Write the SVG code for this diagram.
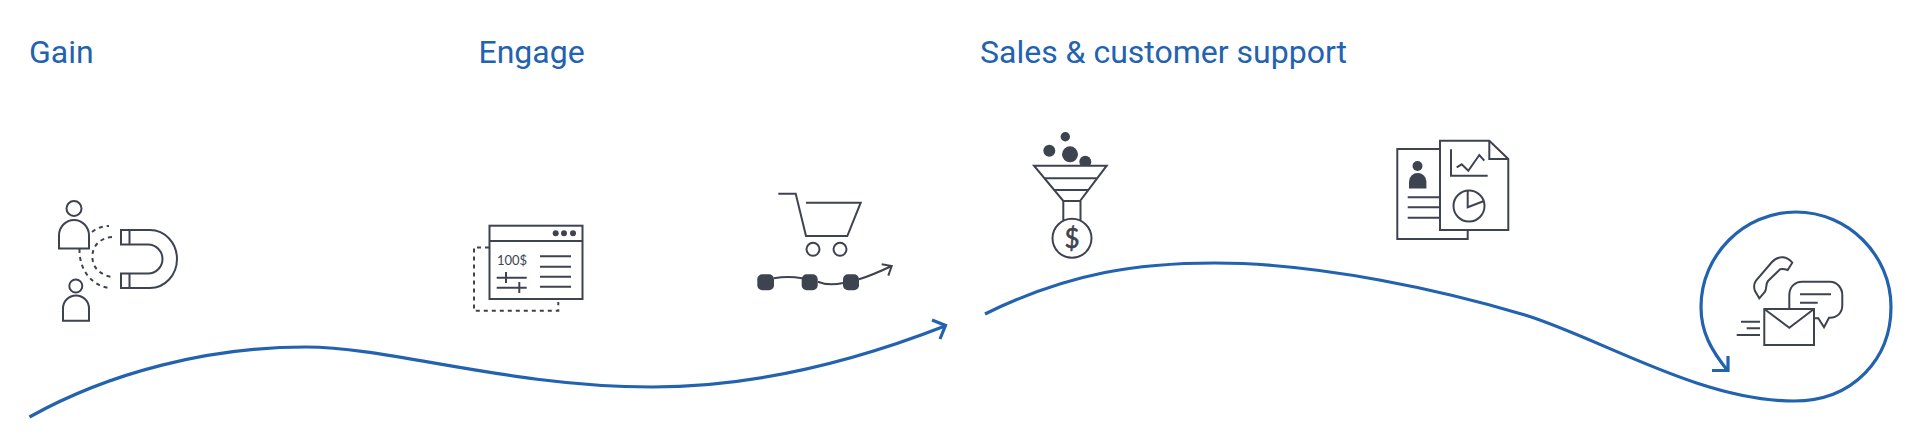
<svg xmlns="http://www.w3.org/2000/svg" width="1920" height="447" viewBox="0 0 1920 447">
<defs><style>
.t{font-family:Roboto,"Liberation Sans",sans-serif;font-size:32px;fill:#2262af}
.i{fill:none;stroke:#3e4350;stroke-width:2}
.w{fill:#fff;stroke:#3e4350;stroke-width:2}
.f{fill:#3e4350}
.d{fill:none;stroke:#3e4350;stroke-width:2;stroke-dasharray:4 4}
.c{fill:none;stroke:#2262af;stroke-width:3.2}
</style></defs>
<rect width="1920" height="447" fill="#fff"/>
<g id="labels">
<text class="t" x="29" y="63">Gain</text>
<text class="t" x="478.500" y="63">Engage</text>
<text class="t" x="980" y="63">Sales &amp; customer support</text>
</g>
<g id="connectors">
<path class="c" d="M29.500 417C110 372 210 347 306 347C390 347 510 387 652 387C745 387 840 367 945 326"/>
<path class="c" d="M932 320L945.500 325.500L940 339"/>
<path class="c" d="M985 314C1070 272 1140 263 1215 263C1320 263 1445 291 1525 315C1600 338 1700 401 1794 401C1854 401 1891 358 1891 307C1891 255 1848 212 1796 212C1744 212 1701 255 1701 307C1701 332 1711 350 1728 371"/>
<path class="c" d="M1728 356V370.500H1712"/>
</g>
<g id="node-gain">
<circle class="i" cx="74" cy="208.500" r="7.500"/>
<path class="i" d="M59 248.500V235.500a15 15.500 0 0 1 30 0V248.500Z"/>
<circle class="i" cx="75.800" cy="286" r="6.500"/>
<path class="i" d="M63 320.700V308.500a13 13 0 0 1 26 0V320.700Z"/>
<path class="i" d="M121 230H150A27 29 0 0 1 150 288H121V273.500H148A14.500 14.500 0 0 0 148 244.500H121Z"/>
<path class="i" d="M129.500 230V244.500M129.500 273.500V288"/>
<path class="d" d="M92 232C97 228 103 226 109 226"/>
<path class="d" d="M79.500 249C79 268 90 285 109 288"/>
<path class="d" d="M112 237C100 238 92 246 92.500 257C92 267 100 275 112 277"/>
</g>
<g id="node-engage">
<path class="d" d="M489 247.500H474V310.700H558.300V302"/>
<rect class="w" x="489.500" y="225.700" width="93" height="73.300"/>
<path class="i" d="M489.500 241H582.500"/>
<circle class="f" cx="555.700" cy="233.300" r="3"/><circle class="f" cx="564" cy="233.300" r="3"/><circle class="f" cx="573" cy="233.300" r="3"/>
<text x="497" y="264.500" font-family="Lato,sans-serif" font-size="13" fill="#3e4350">100$</text>
<path class="i" d="M540 256.300H571M540 266.700H571M540 276.700H571M540 286.700H571M496.700 277.700H526.700M496.700 287.700H526.700M506 272V283M519.300 282V293"/>
</g>
<g id="node-cart">
<path class="i" d="M778.300 193.700H795.700L806 236H847.300L860.700 202.700H806"/>
<circle class="i" cx="813" cy="249.300" r="6.500"/><circle class="i" cx="840" cy="249.300" r="6.500"/>
<rect class="f" x="757.300" y="274.300" width="16.700" height="16" rx="5"/>
<rect class="f" x="801.700" y="274.300" width="16" height="16" rx="5"/>
<rect class="f" x="843" y="274.300" width="16" height="16" rx="5"/>
<path class="i" d="M774 278.300C784 276.500 792 276.500 802 278.300M817.700 281.700C826 285 834 285 843 283M859 279.300C870 276 881 271 891.700 266M881.700 264.300L891.700 266L888.300 275.700"/>
</g>
<g id="node-funnel">
<circle class="f" cx="1065.300" cy="136.700" r="4.700"/>
<circle class="f" cx="1049.300" cy="150.700" r="6"/>
<circle class="f" cx="1070" cy="154.300" r="8"/>
<circle class="f" cx="1085.300" cy="161.700" r="6"/>
<path class="w" d="M1034 165.700H1106.700L1080 201H1063.300Z"/>
<path class="i" d="M1044 178.300H1096.700M1054.300 190H1089M1063.300 201V220.700M1080.500 201V220.700"/>
<circle class="i" cx="1072" cy="238.300" r="19.500"/>
<text x="1072" y="248" text-anchor="middle" font-family="Lato,sans-serif" font-size="26" fill="#3e4350" stroke="#3e4350" stroke-width=".6">$</text>
</g>
<g id="node-docs">
<path class="i" d="M1440 149H1397.300V239H1467.700V230"/>
<path class="w" d="M1440 140.700H1489.300L1508.300 159V230H1440Z"/>
<path class="i" d="M1489.300 140.700V159H1508.300"/>
<circle class="f" cx="1417.500" cy="166" r="5"/>
<path class="f" d="M1409 188.500V181.500a8.700 8.500 0 0 1 17.400 0V188.500Z"/>
<path class="i" d="M1407.700 197.300H1440M1407.700 207.300H1440M1407.700 217.700H1440"/>
<path class="i" d="M1451 149.300V175.700H1487.700M1456.700 167.300L1461.700 164.300L1468.300 170.700L1479.300 155L1484.300 160.700"/>
<circle class="i" cx="1469" cy="206" r="15.500"/>
<path class="i" d="M1467.700 190.700V207.300L1484 201"/>
</g>
<g id="node-support">
<path class="i" d="M1759.300 298.300L1755 291C1753.500 287 1754 283.500 1756 280.700L1772 262C1775 258.500 1779 257 1783 257.300C1787 257.800 1790 260 1792.300 262.700L1787.700 270C1785 269 1782.500 268.500 1780 269.300L1768 281C1765.500 284 1767 288 1765 291.700Z"/>
<path class="i" d="M1789.300 309V295C1789.300 287 1795 281.700 1802 281.700H1830C1837 281.700 1842.300 288 1842.300 295V305C1842.300 313 1837 317.700 1830 317.700H1829L1824 327.300L1818.300 318.300H1814"/>
<path class="i" d="M1800 294.300H1831M1800 302.700H1817.700"/>
<rect class="w" x="1764.300" y="309" width="49.700" height="36"/>
<path class="i" d="M1764.300 309L1789.300 327.700L1814 309"/>
<path class="i" d="M1741 321.700H1760M1746.700 328.300H1760M1736.700 335H1760"/>
</g>
</svg>
